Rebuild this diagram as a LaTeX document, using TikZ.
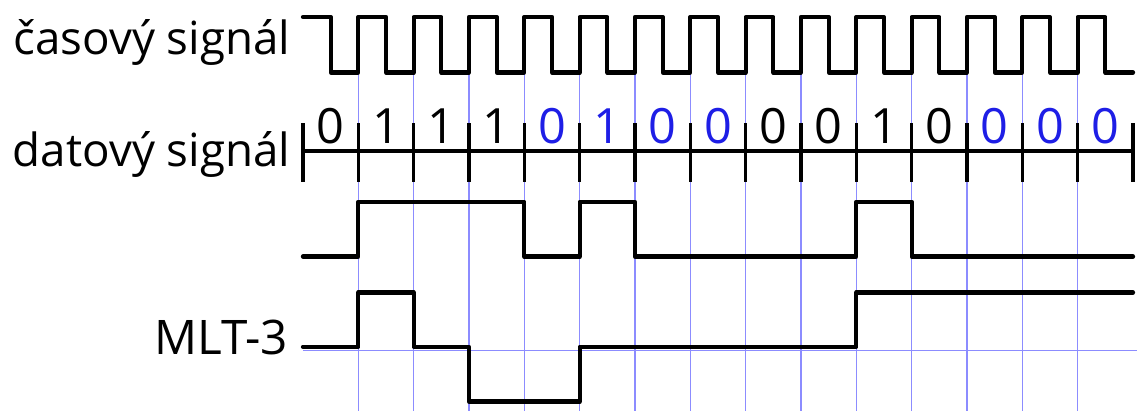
\documentclass[tikz,border=0pt]{standalone}
\usepackage{fontspec}
\setmainfont{Open Sans}
\usetikzlibrary{positioning}

\definecolor{bitblue}{RGB}{30,30,230}
\definecolor{gridblue}{RGB}{140,140,255}

\tikzset{
  sig/.style={black, line width=2.2pt, line join=round, line cap=round},
  tick/.style={black, line width=1.6pt},
  gridline/.style={gridblue, line width=0.55pt},
  lbl/.style={font=\fontsize{23.5}{28}\selectfont, anchor=base east, inner sep=0pt},
  bit/.style={font=\fontsize{25}{30}\selectfont, anchor=base, inner sep=0pt}
}

\begin{document}
\begin{tikzpicture}
\useasboundingbox (-5.476,0) rectangle (15.073,7.428);

%grid
%vertical
\foreach \x in {1,...,14}
  \draw[gridline] (\x,6.12) -- (\x,0);
%horizontal
\draw[gridline] (0,1.10) -- (15.073,1.10);

%labels
\node[lbl] (clk) at (-0.22,6.45) {časový signál};
\node[lbl] (data) at (-0.22,4.41) {datový signál};
\node[lbl, font=\fontsize{24.5}{29}\selectfont] (mlt) at (-0.26,1.03) {MLT-3};

%clock
\draw[sig] (0,7.12) \foreach \i in {0,...,13} {
  -- ++(0.5,0) -- ++(0,-1) -- ++(0.5,0) -- ++(0,1)}
  -- ++(0.5,0) -- ++(0,-1) -- ++(0.5,0);

%data axis
\draw[tick] (0,4.70) -- (15,4.70);
\foreach \x in {0,...,15}
  \draw[tick] (\x,4.14) -- (\x,5.21);
%bits
\foreach \b/\c [count=\i from 0] in {0/black,1/black,1/black,1/black,0/bitblue,1/bitblue,0/bitblue,0/bitblue,0/black,0/black,1/black,0/black,0/bitblue,0/bitblue,0/bitblue}
  \node[bit, text=\c] (b\i) at (\i+0.5,4.84) {\b};

%nrz
\draw[sig] (0,2.79) -- (1,2.79) -- (1,3.78) -- (4,3.78) -- (4,2.79) -- (5,2.79) -- (5,3.78) -- (6,3.78) -- (6,2.79) -- (10,2.79) -- (10,3.78) -- (11,3.78) -- (11,2.79) -- (15,2.79);

%mlt-3
\draw[sig] (0,1.16) -- (1,1.16) -- (1,2.14) -- (2,2.14) -- (2,1.16) -- (3,1.16) -- (3,0.17) -- (5,0.17) -- (5,1.16) -- (10,1.16) -- (10,2.14) -- (15,2.14);

\end{tikzpicture}
\end{document}
